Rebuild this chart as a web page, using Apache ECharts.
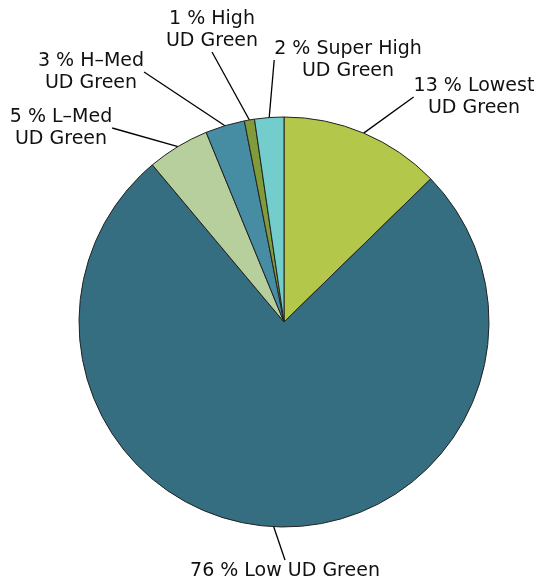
<!DOCTYPE html>
<html><head><meta charset="utf-8">
<script src="https://cdn.jsdelivr.net/npm/echarts@6/dist/echarts.min.js"></script>
<style>html,body{margin:0;padding:0;background:#fff}#c{width:537px;height:582px}</style>
</head><body><div id="c"></div>
<script>
var categories = ['Lowest UD Green','Low UD Green','L\u2013Med UD Green','H\u2013Med UD Green','High UD Green','Super High UD Green'];
var labelTexts = ['13 % Lowest\nUD Green','76 % Low UD Green','5 % L\u2013Med\nUD Green','3 % H\u2013Med\nUD Green','1 % High\nUD Green','2 % Super High\nUD Green'];
var values = [12.7, 76.2, 4.9, 3.1, 0.8, 2.3];
var colors = ['#b3c74a','#356e80','#b6cf9c','#468ca3','#7f9b3a','#72cdcc'];

var labelPos = [[474,97],[285,571],[61,128],[91,72],[212,30],[348,60]];
var labelBoxW = [96, null, null, null, null, 96];

var chart = echarts.init(document.getElementById('c'), null, {renderer:'canvas'});
chart.setOption({
  animation:false,
  series:[{
    type:'pie',
    center:[284,322],
    radius:205,
    startAngle:90,
    clockwise:true,
    itemStyle:{borderColor:'#222',borderWidth:1},
    label:{show:true,color:'#111',fontFamily:'DejaVu Sans',fontSize:19,lineHeight:22,align:'center',overflow:'none',
      formatter:function(p){return labelTexts[p.dataIndex];}},
    labelLine:{show:true,length:20,length2:0,lineStyle:{color:'#000',width:1.3}},
    labelLayout:function(p){
      var pos = labelPos[p.dataIndex];
      return {x:pos[0], y:pos[1], align:'center', verticalAlign:'middle'};
    },
    emphasis:{disabled:true},
    data: categories.map(function(c,i){
      var d = {name:c,value:values[i],itemStyle:{color:colors[i]}};
      if (labelBoxW[i]) d.label = {width:labelBoxW[i]};
      return d;
    })
  }]
});
</script></body></html>
